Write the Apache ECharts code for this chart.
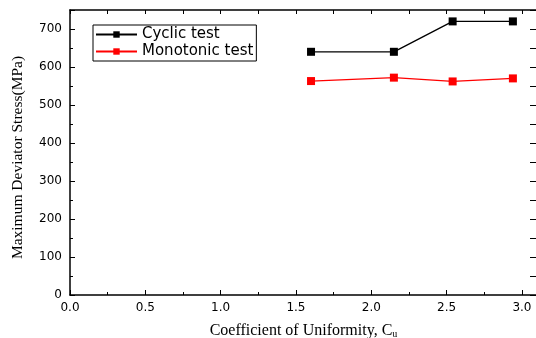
<!DOCTYPE html>
<html>
<head>
<meta charset="utf-8">
<script src="https://cdn.jsdelivr.net/npm/echarts@6/dist/echarts.min.js"></script>
<style>html,body{margin:0;padding:0;background:#fff;}#c{width:536px;height:338px;}</style>
</head>
<body>
<div id="c"></div>
<script>
var cu = [1.60, 2.15, 2.54, 2.94];
var cyclic = [640, 640, 720, 720];
var monotonic = [563, 572, 562, 570];
var seriesNames = ['Cyclic test', 'Monotonic test'];
var xTitle = 'Coefficient of Uniformity, C';
var xTitleSub = 'u';
var yTitle = 'Maximum Deviator Stress(MPa)';

function pairs(xs, ys) { return xs.map(function (x, i) { return [x, ys[i]]; }); }

var chart = echarts.init(document.getElementById('c'), null, {renderer: 'canvas'});
var axisLine = {show: true, onZero: false, lineStyle: {color: '#000', width: 1.5}};
var labelFont = {fontFamily: 'DejaVu Sans', fontSize: 12, color: '#000'};
var tickStyle = {color: '#000', width: 1};
chart.setOption({
  animation: false,
  backgroundColor: '#fff',
  grid: {left: 70, top: 10, width: 467, height: 285, containLabel: false, outerBoundsMode: 'none'},
  legend: {
    orient: 'vertical', left: 93, top: 25,
    data: seriesNames,
    itemWidth: 41, itemHeight: 8, itemGap: 2,
    padding: [2, 3, 2, 2],
    borderColor: '#000', borderWidth: 1,
    textStyle: {fontFamily: 'DejaVu Sans', fontSize: 15, color: '#000'}
  },
  xAxis: [{
    type: 'value', min: 0, max: 3.1, interval: 0.5, position: 'bottom',
    axisLine: axisLine,
    axisTick: {show: true, inside: true, length: 5, lineStyle: tickStyle},
    minorTick: {show: true, splitNumber: 2, length: 3, lineStyle: tickStyle},
    splitLine: {show: false},
    axisLabel: Object.assign({margin: 7, showMaxLabel: false, formatter: function (v) { return v.toFixed(1); }}, labelFont),
    name: '{a|' + xTitle + '}{s|' + xTitleSub + '}',
    nameLocation: 'middle', nameGap: 27,
    nameTextStyle: {rich: {
      a: {fontFamily: 'Liberation Serif', fontSize: 16, color: '#000'},
      s: {fontFamily: 'Liberation Serif', fontSize: 10, color: '#000', verticalAlign: 'bottom', padding: [7, 0, 0, 0]}
    }}
  }, {
    type: 'value', min: 0, max: 3.1, interval: 0.25, position: 'top',
    axisLine: axisLine,
    axisTick: {show: true, inside: true, length: 4, lineStyle: tickStyle},
    splitLine: {show: false},
    axisLabel: {show: false}
  }],
  yAxis: [{
    type: 'value', min: 0, max: 750, interval: 100, position: 'left',
    axisLine: axisLine,
    axisTick: {show: true, inside: true, length: 5, lineStyle: tickStyle},
    minorTick: {show: true, splitNumber: 2, length: 3, lineStyle: tickStyle},
    splitLine: {show: false},
    axisLabel: Object.assign({margin: 8, showMaxLabel: false}, labelFont),
    name: yTitle, nameLocation: 'middle', nameGap: 44,
    nameTextStyle: {fontFamily: 'Liberation Serif', fontSize: 15.5, color: '#000', padding: [0, 10, 0, 0]}
  }, {
    type: 'value', min: 0, max: 750, interval: 50, position: 'right',
    axisLine: axisLine,
    axisTick: {show: true, inside: true, length: 7, lineStyle: tickStyle},
    splitLine: {show: false},
    axisLabel: {show: false}
  }],
  series: [{
    name: seriesNames[0], type: 'line', data: pairs(cu, cyclic),
    symbol: 'rect', symbolSize: 8, color: '#000',
    lineStyle: {color: '#000', width: 1.3}, itemStyle: {color: '#000'}
  }, {
    name: seriesNames[1], type: 'line', data: pairs(cu, monotonic),
    symbol: 'rect', symbolSize: 8, color: '#ff0000',
    lineStyle: {color: '#ff0000', width: 1.3}, itemStyle: {color: '#ff0000'}
  }]
});
</script>
</body>
</html>
